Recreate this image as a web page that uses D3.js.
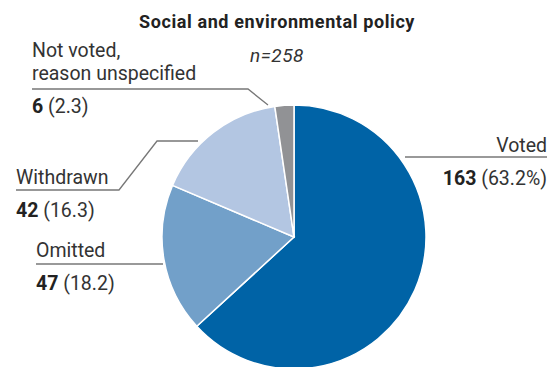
<!DOCTYPE html>
<html>
<head>
<meta charset="utf-8">
<script src="https://cdn.jsdelivr.net/npm/d3@7/dist/d3.min.js"></script>
<style>
  html, body { margin: 0; padding: 0; background: #fff; }
  svg { display: block; font-family: Roboto, "Liberation Sans", sans-serif; }
</style>
</head>
<body>
<svg id="chart" width="552" height="367"></svg>
<script>
// Voting outcomes for social and environmental policy proposals
const categories = ["Voted", "Omitted", "Withdrawn", "Not voted, reason unspecified"];
const counts = [163, 47, 42, 6];
const shares = [63.2, 18.2, 16.3, 2.3];
const total = 258;
const colors = ["#0063a6", "#72a0c9", "#b3c6e2", "#919295"];

const svg = d3.select("#chart");
const cx = 294, cy = 237, r = 132;

svg.append("text")
  .attr("x", 277).attr("y", 28)
  .attr("text-anchor", "middle")
  .attr("font-size", 18).attr("font-weight", 700)
  .attr("letter-spacing", 0.6)
  .attr("fill", "#222")
  .text("Social and environmental policy");

svg.append("text")
  .attr("x", 277).attr("y", 62)
  .attr("text-anchor", "middle")
  .attr("font-size", 19).attr("font-style", "italic")
  .attr("letter-spacing", 0.5)
  .attr("fill", "#333")
  .text("n=" + total);

const pie = d3.pie().sort(null).value(d => d)(counts);
const arc = d3.arc().innerRadius(0).outerRadius(r);

const g = svg.append("g").attr("transform", `translate(${cx},${cy})`);
g.selectAll("path")
  .data(pie)
  .join("path")
  .attr("d", arc)
  .attr("fill", (d, i) => colors[i])
  .attr("stroke", "#fff")
  .attr("stroke-width", 1.5);

// Leader lines
const lineColor = "#777";
const leaders = [
  [[405, 157], [547, 157]],
  [[163, 264], [36, 264]],
  [[198, 141], [157, 141], [119, 190], [16, 190]],
  [[268, 105], [248, 89], [32, 89]]
];
svg.selectAll("polyline.leader")
  .data(leaders)
  .join("polyline")
  .attr("class", "leader")
  .attr("points", d => d.map(p => p.join(",")).join(" "))
  .attr("fill", "none")
  .attr("stroke", lineColor)
  .attr("stroke-width", 1.3);

const txt = "#333";
function label(x, y, lines, anchor) {
  const t = svg.append("text")
    .attr("x", x).attr("y", y)
    .attr("text-anchor", anchor)
    .attr("font-size", 19.5)
    .attr("fill", txt);
  lines.forEach((l, i) => {
    t.append("tspan").attr("x", x).attr("dy", i === 0 ? 0 : 23).text(l);
  });
}
function value(x, y, i, pct, anchor) {
  const t = svg.append("text")
    .attr("x", x).attr("y", y)
    .attr("text-anchor", anchor)
    .attr("font-size", 19.5)
    .attr("fill", txt);
  t.append("tspan").attr("font-weight", 700).attr("fill", "#222").text(counts[i]);
  t.append("tspan").text(" (" + shares[i].toFixed(1) + (pct ? "%" : "") + ")");
}

label(547, 152, ["Voted"], "end");
value(547, 185, 0, true, "end");

label(36, 257, ["Omitted"], "start");
value(36, 290, 1, false, "start");

label(16, 184, ["Withdrawn"], "start");
value(16, 217, 2, false, "start");

label(32, 57, ["Not voted,", "reason unspecified"], "start");
value(32, 113, 3, false, "start");
</script>
</body>
</html>
